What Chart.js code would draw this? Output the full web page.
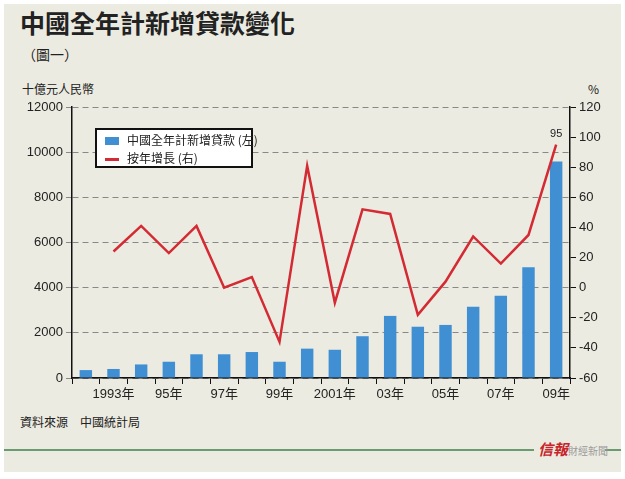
<!DOCTYPE html>
<html><head><meta charset="utf-8">
<script src="https://cdn.jsdelivr.net/npm/chart.js@4"></script>
<style>
body{margin:0;background:#fff;font-family:"Noto Sans CJK TC","Liberation Sans",sans-serif;}
#wrap{position:absolute;left:4px;top:4px;width:617px;height:468px;background:#ecebe1;}
.t{position:absolute;color:#222;white-space:nowrap;}
#box{position:absolute;left:0;top:96px;width:625px;height:314px;}
</style></head><body>
<div id="wrap"></div>
<div class="t" style="left:20px;top:4px;font-size:25px;font-weight:bold;">中國全年計新增貸款變化</div>
<div class="t" style="left:22px;top:44px;font-size:14px;">（圖一）</div>
<div class="t" style="left:22px;top:80px;font-size:12px;">十億元人民幣</div>
<div class="t" style="left:588px;top:80px;font-size:12px;">%</div>
<div id="box"><canvas id="chart"></canvas></div>
<div class="t" style="left:95px;top:128px;width:158px;height:40px;border:2px solid #111;background:#fff;font-size:12px;line-height:18px;padding:1px 0 0 8px;box-sizing:border-box;">
<div><span style="display:inline-block;width:14px;height:8px;background:#3f8fd2;margin-right:8px;"></span>中國全年計新增貸款 (左)</div>
<div><span style="display:inline-block;width:14px;height:3px;background:#d42a33;margin-right:8px;vertical-align:middle;"></span>按年增長 (右)</div>
</div>
<div class="t" style="left:20px;top:413px;font-size:12px;">資料來源　中國統計局</div>
<div style="position:absolute;left:4px;top:449px;width:530px;height:2px;background:#6a9a70;"></div>
<div style="position:absolute;left:605px;top:449px;width:16px;height:2px;background:#6a9a70;"></div>
<div class="t" style="left:538px;top:438px;font-size:15px;font-weight:bold;color:#c8242b;font-style:italic;">信報<span style="font-size:10px;color:#999;font-weight:normal;font-style:normal;">財經新聞</span></div>
<script>
const years = ['1992','1993','1994','1995','1996','1997','1998','1999','2000','2001','2002','2003','2004','2005','2006','2007','2008','2009'];
const yearLabels = ['','1993年','','95年','','97年','','99年','','2001年','','03年','','05年','','07年','','09年'];
const loans = [350,400,600,720,1050,1050,1150,720,1300,1250,1850,2750,2270,2350,3150,3640,4900,9590];
const growth = [null,24,41,23,41,0,7,-36,81,-10,52,49,-18,4,34,16,35,95];

const lastLabel = {
  id: 'lastLabel',
  afterDatasetsDraw(chart) {
    const p = chart.getDatasetMeta(1).data[17];
    const c = chart.ctx;
    c.save(); c.font = '11px "Liberation Sans"'; c.fillStyle = '#222'; c.textAlign = 'center';
    c.fillText('95', p.x, p.y - 8); c.restore();
  }
};

new Chart(document.getElementById('chart'), {
  data: {
    labels: years,
    datasets: [
      {type: 'bar', data: loans, backgroundColor: '#3f8fd2', yAxisID: 'y', barPercentage: 0.45, categoryPercentage: 1, order: 2},
      {type: 'line', data: growth, borderColor: '#d42a33', borderWidth: 2.5, pointRadius: 0, yAxisID: 'y1', tension: 0, order: 1}
    ]
  },
  options: {
    animation: false, responsive: true, maintainAspectRatio: false,
    layout: {padding: {top: 11}},
    plugins: {legend: {display: false}, tooltip: {enabled: false}},
    scales: {
      x: {
        grid: {display: true, drawOnChartArea: false, color: '#111', tickLength: 6, offset: true},
        border: {color: '#111', width: 1.5},
        ticks: {autoSkip: false, maxRotation: 0, color: '#222', font: {size: 13, family: '"Liberation Sans","Noto Sans CJK TC"'}, callback: (v, i) => yearLabels[i]},
        afterFit: a => { a.height = 32; }
      },
      y: {
        min: 0, max: 12000, ticks: {stepSize: 2000, color: '#222', font: {size: 13, family: '"Liberation Sans"'}, callback: v => String(v)},
        grid: {color: '#888', tickLength: 6, drawTicks: true},
        border: {color: '#111', width: 1.5, dash: [6, 4]},
        afterFit: a => { a.width = 72; }
      },
      y1: {
        position: 'right', min: -60, max: 120, ticks: {stepSize: 20, color: '#222', font: {size: 13, family: '"Liberation Sans"'}},
        grid: {drawOnChartArea: false, color: '#111', tickLength: 6},
        border: {color: '#111', width: 1.5},
        afterFit: a => { a.width = 55; }
      }
    }
  },
  plugins: [lastLabel]
});
</script>
</body></html>
